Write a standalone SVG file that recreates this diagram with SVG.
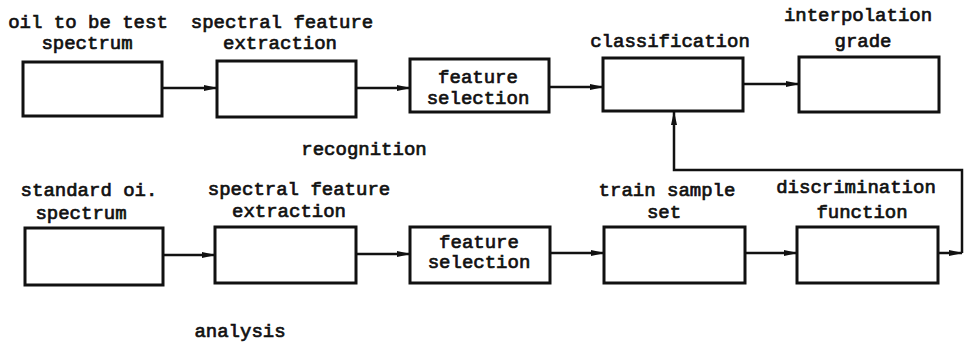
<svg xmlns="http://www.w3.org/2000/svg" width="964" height="347" viewBox="0 0 964 347">
<defs>
<style>
.box{fill:#fff;stroke:#111;stroke-width:3}
.lbl{font-family:"Liberation Mono","DejaVu Sans Mono",monospace;font-size:19px;font-weight:normal;fill:#111;stroke:#111;stroke-width:0.7;text-anchor:middle}
.con{fill:none;stroke:#111;stroke-width:2.5}
</style>
<marker id="ah" viewBox="0 0 14 8" refX="13" refY="4" markerWidth="14" markerHeight="8" markerUnits="userSpaceOnUse" orient="auto">
<path d="M0,1 L14,4 L0,7 Z" fill="#111"/>
</marker>
</defs>
<rect width="964" height="347" fill="#fff"/>
<g id="connectors">
<line class="con" x1="162" y1="88" x2="217" y2="88" marker-end="url(#ah)"/>
<line class="con" x1="356" y1="88" x2="410" y2="88" marker-end="url(#ah)"/>
<line class="con" x1="549" y1="87" x2="603" y2="87" marker-end="url(#ah)"/>
<line class="con" x1="743" y1="84" x2="799" y2="84" marker-end="url(#ah)"/>
<line class="con" x1="163" y1="255" x2="215" y2="255" marker-end="url(#ah)"/>
<line class="con" x1="356" y1="254" x2="410" y2="254" marker-end="url(#ah)"/>
<line class="con" x1="550" y1="253" x2="604" y2="253" marker-end="url(#ah)"/>
<line class="con" x1="745" y1="253" x2="797" y2="253" marker-end="url(#ah)"/>
<line class="con" x1="938" y1="253" x2="962" y2="253" marker-end="url(#ah)"/>
<polyline class="con" points="962,253 962,170 674,170 674,112" marker-end="url(#ah)"/>
</g>
<g id="n1"><text class="lbl" x="88" y="28">oil to be test</text><text class="lbl" x="87" y="49">spectrum</text><rect class="box" x="23" y="62" width="139" height="54"/></g>
<g id="n2"><text class="lbl" x="282" y="28">spectral feature</text><text class="lbl" x="280" y="49">extraction</text><rect class="box" x="217" y="61" width="139" height="56"/></g>
<g id="n3"><rect class="box" x="410" y="59" width="139" height="53"/><text class="lbl" x="478" y="83">feature</text><text class="lbl" x="478" y="104">selection</text></g>
<g id="n4"><text class="lbl" x="670" y="47">classification</text><rect class="box" x="603" y="58" width="140" height="53"/></g>
<g id="n5"><text class="lbl" x="858" y="21">interpolation</text><text class="lbl" x="863" y="47">grade</text><rect class="box" x="799" y="57" width="140" height="55"/></g>
<text class="lbl" x="364" y="155">recognition</text>
<g id="m1"><text class="lbl" x="89" y="196">standard oi.</text><text class="lbl" x="81" y="219">spectrum</text><rect class="box" x="25" y="228" width="138" height="57"/></g>
<g id="m2"><text class="lbl" x="299" y="195">spectral feature</text><text class="lbl" x="289" y="217">extraction</text><rect class="box" x="215" y="227" width="141" height="56"/></g>
<g id="m3"><rect class="box" x="410" y="227" width="140" height="56"/><text class="lbl" x="479" y="248">feature</text><text class="lbl" x="479" y="268">selection</text></g>
<g id="m4"><text class="lbl" x="667" y="196">train sample</text><text class="lbl" x="664" y="218">set</text><rect class="box" x="604" y="227" width="141" height="56"/></g>
<g id="m5"><text class="lbl" x="856" y="193">discrimination</text><text class="lbl" x="862" y="218">function</text><rect class="box" x="797" y="227" width="141" height="56"/></g>
<text class="lbl" x="240" y="337">analysis</text>
</svg>
